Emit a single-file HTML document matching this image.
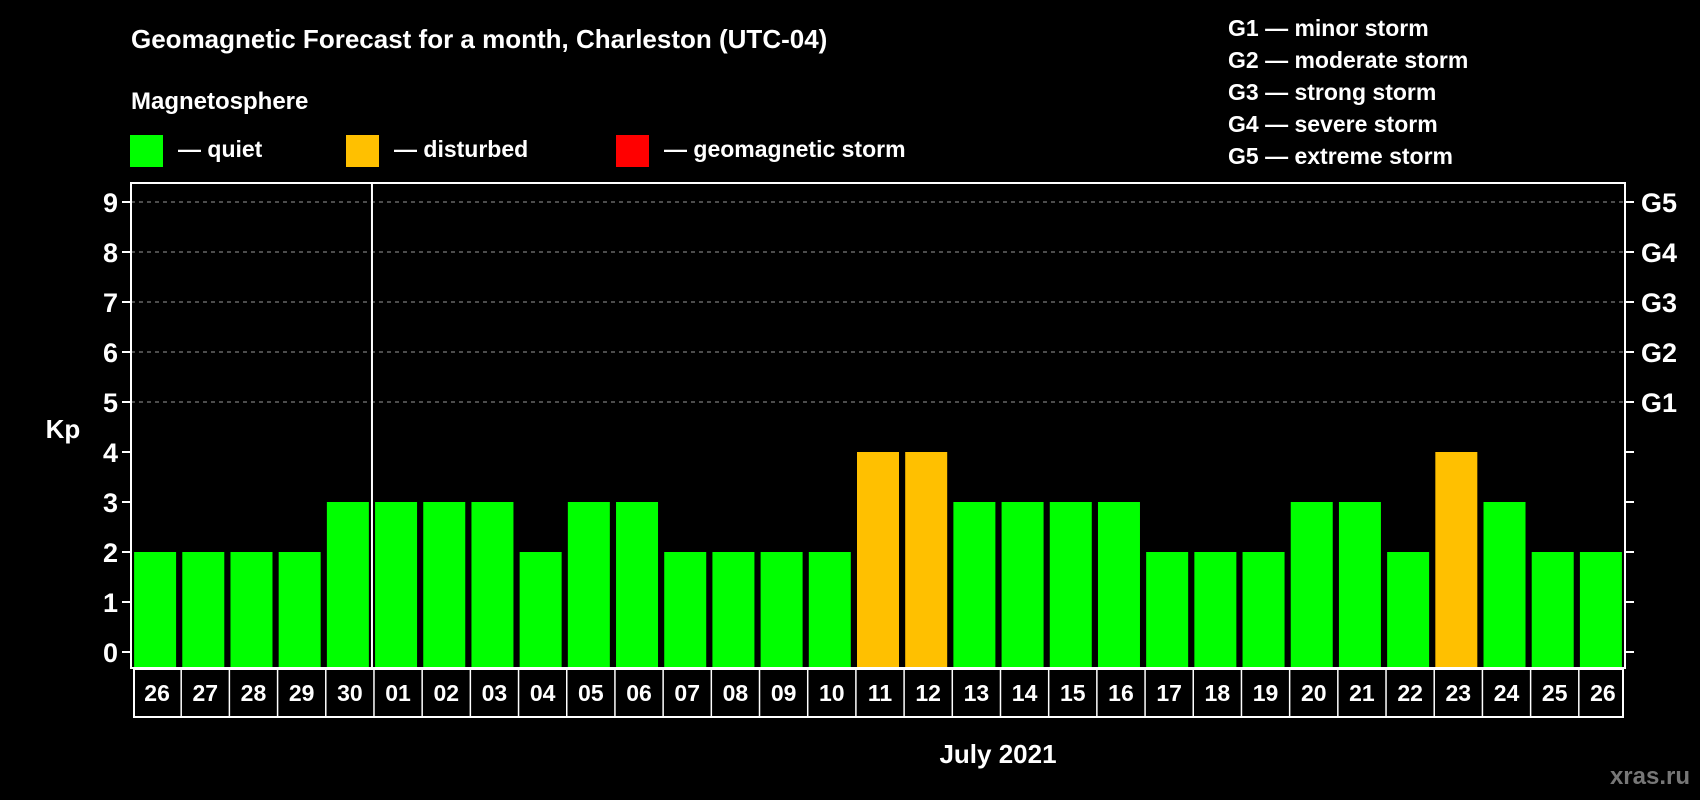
<!DOCTYPE html>
<html><head><meta charset="utf-8"><style>
html,body{margin:0;padding:0;background:#000;width:1700px;height:800px;overflow:hidden}
svg text{font-family:"Liberation Sans",Arial,sans-serif;font-weight:bold;fill:#fff}
</style></head><body>
<svg id="chart" width="1700" height="800" xmlns="http://www.w3.org/2000/svg">
<text x="131" y="48" font-size="26">Geomagnetic Forecast for a month, Charleston (UTC-04)</text>
<text x="131" y="109" font-size="24">Magnetosphere</text>
<rect x="130" y="135" width="33" height="32" fill="#00ff00"/>
<text x="178" y="157" font-size="23">— quiet</text>
<rect x="346" y="135" width="33" height="32" fill="#ffc000"/>
<text x="394" y="157" font-size="23">— disturbed</text>
<rect x="616" y="135" width="33" height="32" fill="#ff0000"/>
<text x="664" y="157" font-size="23">— geomagnetic storm</text>
<g font-size="23">
<text x="1228" y="36">G1 — minor storm</text>
<text x="1228" y="68">G2 — moderate storm</text>
<text x="1228" y="100">G3 — strong storm</text>
<text x="1228" y="132">G4 — severe storm</text>
<text x="1228" y="164">G5 — extreme storm</text>
</g>
<text x="63" y="438" font-size="26" text-anchor="middle">Kp</text>
<text x="998" y="763" font-size="26" text-anchor="middle">July 2021</text>
<text x="1690" y="784" font-size="24" text-anchor="end" style="fill:#777">xras.ru</text>
<g id="grid"></g><g id="bars"></g><g id="axes"></g>
</svg>
<script>
const days=["26","27","28","29","30","01","02","03","04","05","06","07","08","09","10","11","12","13","14","15","16","17","18","19","20","21","22","23","24","25","26"];
const kp=[2,2,2,2,3,3,3,3,2,3,3,2,2,2,2,4,4,3,3,3,3,2,2,2,3,3,2,4,3,2,2];
const yTicks=[0,1,2,3,4,5,6,7,8,9];
const gLabels=["G1","G2","G3","G4","G5"];
const L=131,R=1625,T=183,B=668;
const slot=(R-L)/days.length;
const y=v=>652-v*50;
const x=i=>L+slot*i;
const NS="http://www.w3.org/2000/svg";
function mk(tag,attrs,parent){const e=document.createElementNS(NS,tag);for(const k in attrs)e.setAttribute(k,attrs[k]);parent.appendChild(e);return e;}
const grid=document.getElementById('grid'),bars=document.getElementById('bars'),axes=document.getElementById('axes');
yTicks.forEach(v=>{
  if(v>=5){const l=mk('line',{x1:L,x2:R,y1:y(v),y2:y(v),stroke:'#999','stroke-width':1,'stroke-dasharray':'4,4'},grid);
  
  }
  const t1=mk('line',{x1:L-9,x2:L,y1:y(v),y2:y(v),stroke:'#fff','stroke-width':2},axes);
  
  
  const t2=mk('line',{x1:R,x2:R+9,y1:y(v),y2:y(v),stroke:'#fff','stroke-width':2},axes);
  
  
  const tx=mk('text',{x:118,y:y(v)+10,'font-size':27,'text-anchor':'end'},axes);tx.textContent=v;
  
  
});
gLabels.forEach((g,i)=>{const t=mk('text',{x:1641,y:y(5+i)+10,'font-size':27},axes);t.textContent=g;
  
  });
kp.forEach((v,i)=>{
  const col=v>=5?'#ff0000':(v>=4?'#ffc000':'#00ff00');
  const r=mk('rect',{x:x(i)+3+slot/2-24,y:y(v),width:42,height:B-y(v),fill:col},bars);
  
  
});
const f=mk('rect',{x:L,y:T,width:R-L,height:B-T,fill:'none',stroke:'#fff','stroke-width':2},axes);


const sep=mk('line',{x1:x(5),x2:x(5),y1:T,y2:B,stroke:'#fff','stroke-width':2},axes);


const box=mk('rect',{x:L+3,y:B+1,width:R-L-5,height:48,fill:'none',stroke:'#fff','stroke-width':2},axes);


days.forEach((d,i)=>{
  if(i>0){const l=mk('line',{x1:x(i)+2,x2:x(i)+2,y1:B+1,y2:B+49,stroke:'#fff','stroke-width':1.5},axes);
  
  }
  const t=mk('text',{x:x(i)+slot/2+2,y:B+33,'font-size':23,'text-anchor':'middle'},axes);t.textContent=d;
  
  
});
</script>
</body></html>
